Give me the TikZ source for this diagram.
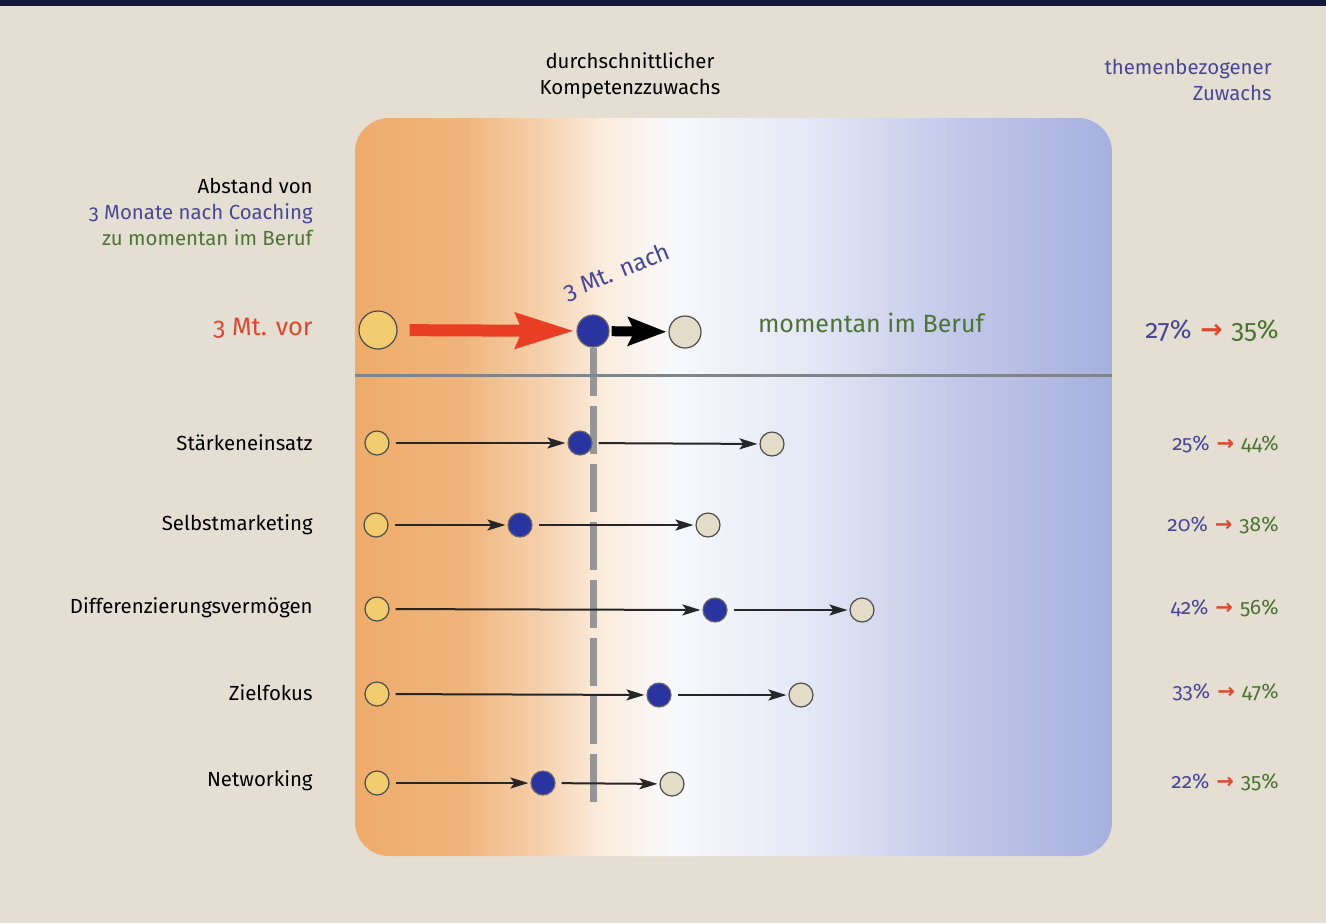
\documentclass[tikz,border=0pt]{standalone}
\usepackage{fontspec}
\setmainfont{Fira Sans}[Numbers=OldStyle]
\newfontfamily\arrowfont{DejaVu Sans}
\usetikzlibrary{arrows.meta}

\definecolor{paper}{RGB}{229,223,211}
\definecolor{navy}{RGB}{18,24,58}
\definecolor{vororange}{RGB}{238,172,108}
\definecolor{nachblue}{RGB}{166,176,222}
\definecolor{txtblue}{RGB}{72,72,150}
\definecolor{txtgreen}{RGB}{76,116,52}
\definecolor{txtred}{RGB}{218,72,48}
\definecolor{dotyellow}{RGB}{242,205,112}
\definecolor{dotblue}{RGB}{42,52,160}
\definecolor{dotgrey}{RGB}{226,220,200}
\definecolor{rulegrey}{RGB}{128,133,140}
\definecolor{avggrey}{RGB}{150,150,152}
\definecolor{bigred}{RGB}{232,62,36}

\colorlet{shadeA}{vororange!90!white}
\colorlet{shadeB}{vororange!58!white}
\colorlet{shadeC}{vororange!22!white}
\colorlet{shadeD}{nachblue!8!white}
\colorlet{shadeE}{nachblue!30!white}
\colorlet{shadeF}{nachblue!70!white}

\pgfdeclarehorizontalshading{panelshade}{100bp}{%
  color(0bp)=(vororange); color(25bp)=(vororange); color(32bp)=(shadeA);
  color(37bp)=(shadeB); color(41.5bp)=(shadeC); color(46bp)=(shadeD);
  color(55bp)=(shadeE); color(65bp)=(shadeF); color(75bp)=(nachblue);
  color(100bp)=(nachblue)}

\newcommand{\zuwachs}[2]{\textcolor{txtblue}{#1\%}\,\,\textcolor{txtred}{\arrowfont\bfseries →}\,\,\textcolor{txtgreen}{#2\%}}

\begin{document}
\begin{tikzpicture}[x=0.5pt, y=-0.5pt,
  vordot/.style = {circle, draw=black!70, line width=0.6pt, fill=dotyellow,
    inner sep=0pt, minimum size=12pt},
  nachdot/.style = {circle, draw=black!60, line width=0.6pt, fill=dotblue,
    inner sep=0pt, minimum size=12pt},
  momdot/.style = {circle, draw=black!70, line width=0.6pt, fill=dotgrey,
    inner sep=0pt, minimum size=12pt},
  rowarrow/.style = {draw=black!85, line width=1pt, shorten <=3pt, shorten >=1pt,
    -{Stealth[length=9pt, width=5.5pt, inset=2pt]}},
  rowlabel/.style = {anchor=east, inner sep=0pt, font=\fontsize{10.2}{13}\selectfont},
  pctlabel/.style = {anchor=east, inner sep=0pt, font=\fontsize{10.5}{13}\selectfont},
  headlabel/.style = {inner sep=0pt, font=\fontsize{10.2}{13}\selectfont}]

  % background and panel
  \useasboundingbox (0,0) rectangle (1326,923);
  \fill[paper] (0,0) rectangle (1326,923);
  \fill[navy] (0,0) rectangle (1326,6);
  \shade[shading=panelshade, rounded corners=17pt] (355,118) rectangle (1112,856);

  % headings
  \node[headlabel, align=center] (avghead) at (630,76)
    {durchschnittlicher\\Kompetenzzuwachs};
  \node[headlabel, align=right, anchor=east, text=txtblue] (topichead) at (1272,80)
    {themenbezogener\\Zuwachs};
  \node[rowlabel, align=right] (legend) at (313,212)
    {Abstand von\\\textcolor{txtblue}{3 Monate nach Coaching}\\\textcolor{txtgreen}{zu momentan im Beruf}};

  % average row
  \node[vordot, minimum size=19pt] (t-vor) at (378,330) {};
  \node[nachdot, minimum size=16pt] (t-nach) at (593,331) {};
  \node[momdot, minimum size=16pt] (t-mom) at (685,332) {};
  \node[rowlabel, font=\fontsize{12.6}{15}\selectfont, text=txtred] (t-label) at (313,328) {3 Mt. vor};
  \node[font=\fontsize{12}{14}\selectfont, text=txtblue, rotate=22] (t-nachlabel) at (617,272) {3 Mt. nach};
  \node[font=\fontsize{12.5}{15}\selectfont, text=txtgreen] (t-momlabel) at (871,323) {momentan im Beruf};
  \node[pctlabel, font=\fontsize{13.2}{15}\selectfont] (t-pct) at (1279,331) {\zuwachs{27}{35}};
  \coordinate (avgend) at (593,810);
  \draw[avggrey, line width=3.5pt, dash pattern=on 24pt off 5pt] (t-nach.south) -- (avgend);
  \draw[rulegrey, line width=1.5pt] (355,375) -- (1112,375);
  \draw[bigred, line width=6pt, shorten <=6pt, shorten >=1pt,
    -{Stealth[length=29pt, width=17pt, inset=3pt]}] (t-vor) -- (t-nach);
  \draw[black, line width=5pt, shorten <=1pt, shorten >=1pt,
    -{Stealth[length=19pt, width=14pt, inset=3pt]}] (t-nach) -- (t-mom);

  % Staerkeneinsatz
  \node[rowlabel] (s1-label) at (313,443) {Stärkeneinsatz};
  \node[vordot] (s1-vor) at (377,443) {};
  \node[nachdot] (s1-nach) at (580,443) {};
  \node[momdot] (s1-mom) at (772,444) {};
  \draw[rowarrow] (s1-vor) -- (s1-nach);
  \draw[rowarrow] (s1-nach) -- (s1-mom);
  \node[pctlabel] (s1-pct) at (1279,444) {\zuwachs{25}{44}};

  % Selbstmarketing
  \node[rowlabel] (s2-label) at (313,525) {Selbstmarketing};
  \node[vordot] (s2-vor) at (376,525) {};
  \node[nachdot] (s2-nach) at (520,525) {};
  \node[momdot] (s2-mom) at (708,525) {};
  \draw[rowarrow] (s2-vor) -- (s2-nach);
  \draw[rowarrow] (s2-nach) -- (s2-mom);
  \node[pctlabel] (s2-pct) at (1279,525) {\zuwachs{20}{38}};

  % Differenzierungsvermoegen
  \node[rowlabel] (s3-label) at (313,608) {Differenzierungsvermögen};
  \node[vordot] (s3-vor) at (377,609) {};
  \node[nachdot] (s3-nach) at (715,610) {};
  \node[momdot] (s3-mom) at (862,610) {};
  \draw[rowarrow] (s3-vor) -- (s3-nach);
  \draw[rowarrow] (s3-nach) -- (s3-mom);
  \node[pctlabel] (s3-pct) at (1279,608) {\zuwachs{42}{56}};

  % Zielfokus
  \node[rowlabel] (s4-label) at (313,693) {Zielfokus};
  \node[vordot] (s4-vor) at (377,694) {};
  \node[nachdot] (s4-nach) at (659,695) {};
  \node[momdot] (s4-mom) at (801,695) {};
  \draw[rowarrow] (s4-vor) -- (s4-nach);
  \draw[rowarrow] (s4-nach) -- (s4-mom);
  \node[pctlabel] (s4-pct) at (1279,692) {\zuwachs{33}{47}};

  % Networking
  \node[rowlabel] (s5-label) at (313,781) {Networking};
  \node[vordot] (s5-vor) at (377,783) {};
  \node[nachdot] (s5-nach) at (543,783) {};
  \node[momdot] (s5-mom) at (672,784) {};
  \draw[rowarrow] (s5-vor) -- (s5-nach);
  \draw[rowarrow] (s5-nach) -- (s5-mom);
  \node[pctlabel] (s5-pct) at (1279,782) {\zuwachs{22}{35}};
\end{tikzpicture}
\end{document}
